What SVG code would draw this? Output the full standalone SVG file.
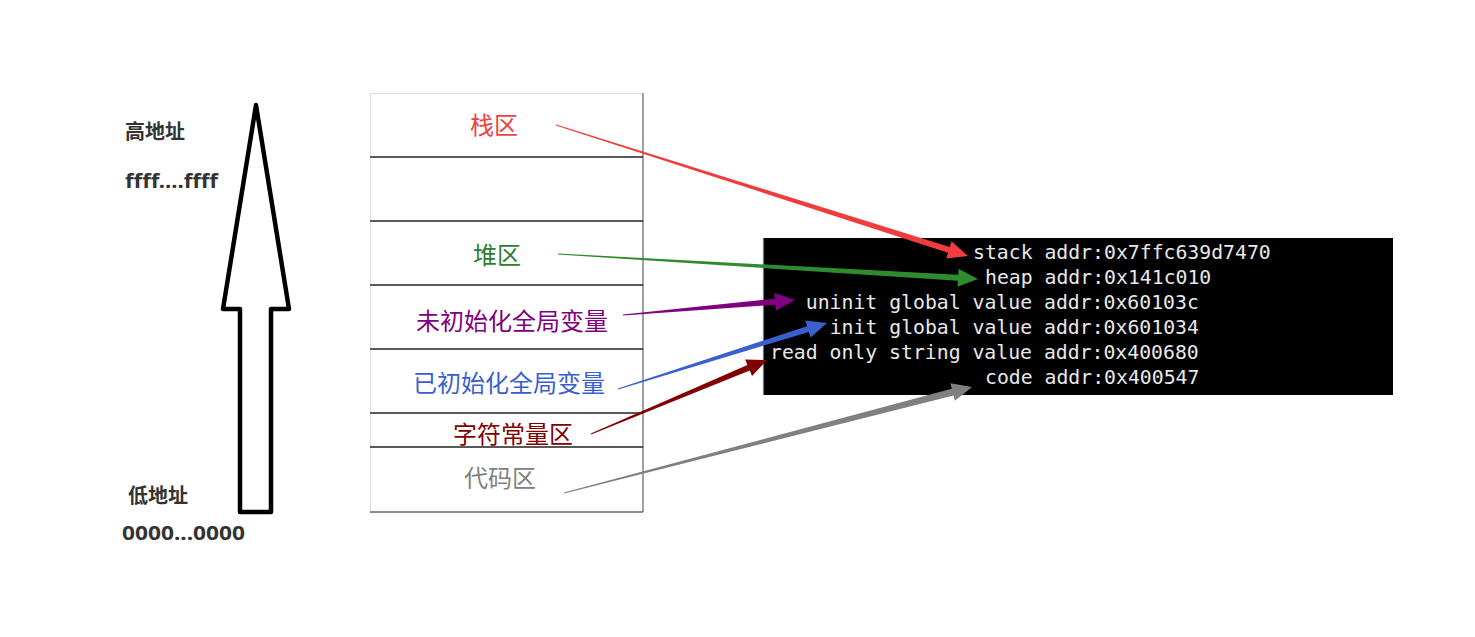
<svg xmlns="http://www.w3.org/2000/svg" width="1475" height="637" viewBox="0 0 1475 637">
<style>
.side{font-family:"Noto Sans","Noto Sans CJK SC",sans-serif;font-weight:bold;font-size:20px;fill:#333}
.seg{font-family:"Noto Sans CJK SC",sans-serif;font-size:24px;text-anchor:middle}
.term{font-family:"DejaVu Sans Mono",monospace;font-size:19.8px;fill:#e8e8e8}
.div{stroke:#222;stroke-width:1.5}
</style>
<rect x="0" y="0" width="1475" height="637" fill="#fff"/>
<g id="address-arrow">
<polygon points="256,105 223,309 240,309 240,512 271,512 271,309 289,309" fill="none" stroke="#000" stroke-width="4.5" stroke-linejoin="round"/>
</g>
<g id="address-labels">
<text class="side" x="125" y="139">高地址</text>
<text class="side" x="125" y="188" textLength="93" lengthAdjust="spacingAndGlyphs">ffff....ffff</text>
<text class="side" x="128" y="503">低地址</text>
<text class="side" x="122" y="540" textLength="123" lengthAdjust="spacingAndGlyphs">0000...0000</text>
</g>
<g id="memory">
<line x1="370" y1="93.5" x2="643" y2="93.5" stroke="#ddd" stroke-width="1"/>
<line x1="370.5" y1="93" x2="370.5" y2="512" stroke="#ddd" stroke-width="1"/>
<line x1="643" y1="93" x2="643" y2="512" stroke="#808080" stroke-width="1.5"/>
<line x1="370" y1="512" x2="643" y2="512" stroke="#666" stroke-width="1.5"/>
<line class="div" x1="370" y1="157" x2="643" y2="157"/>
<line class="div" x1="370" y1="221" x2="643" y2="221"/>
<line class="div" x1="370" y1="285" x2="643" y2="285"/>
<line class="div" x1="370" y1="349" x2="643" y2="349"/>
<line class="div" x1="370" y1="413" x2="643" y2="413"/>
<line class="div" x1="370" y1="447" x2="643" y2="447"/>
</g>
<g id="seg-stack"><text class="seg" x="494" y="134" fill="#f04040">栈区</text></g>
<g id="seg-heap"><text class="seg" x="497" y="264" fill="#2e7d32">堆区</text></g>
<g id="seg-bss"><text class="seg" x="512" y="330" fill="#800080">未初始化全局变量</text></g>
<g id="seg-data"><text class="seg" x="509" y="392" fill="#3a5fd0">已初始化全局变量</text></g>
<g id="seg-rodata"><text class="seg" x="513" y="443" fill="#800000">字符常量区</text></g>
<g id="seg-text"><text class="seg" x="500" y="487" fill="#808080">代码区</text></g>
<g id="terminal">
<rect x="763" y="238" width="630" height="157" fill="#000"/>
<line x1="763.5" y1="238" x2="763.5" y2="395" stroke="#3b7fc4" stroke-width="1.2"/>
<text class="term" x="973" y="259">stack addr:0x7ffc639d7470</text>
<text class="term" x="985" y="284">heap addr:0x141c010</text>
<text class="term" x="805.8" y="309">uninit global value addr:0x60103c</text>
<text class="term" x="829.7" y="334">init global value addr:0x601034</text>
<text class="term" x="770" y="359">read only string value addr:0x400680</text>
<text class="term" x="985" y="384">code addr:0x400547</text>
</g>
<g id="connectors">
<polygon fill="#f03c3c" points="555.85,125.48 948.0,252.8 946.2,258.5 968,256 951.6,241.3 949.8,247.0 556.15,124.52"/>
<polygon fill="#2e8b2e" points="557.97,254.5 957.86,280.8 957.51,286.79 978,279 958.57,268.83 958.22,274.82 558.03,253.5"/>
<polygon fill="#800080" points="623.04,315.5 775.34,304.73 775.86,310.71 795,300 774.3,292.77 774.82,298.75 622.96,314.5"/>
<polygon fill="#3a5fd0" points="618.15,389.48 808.83,331.88 810.64,337.6 827,323 805.22,320.44 807.03,326.16 617.85,388.52"/>
<polygon fill="#800000" points="591.19,434.46 749.72,370.52 752.05,376.05 767,360 745.07,359.45 747.4,364.98 590.81,433.54"/>
<polygon fill="#808080" points="564.13,493.48 953.52,395.42 954.9,400.74 972,387 950.38,383.32 951.76,388.64 563.87,492.52"/>
</g>
</svg>
